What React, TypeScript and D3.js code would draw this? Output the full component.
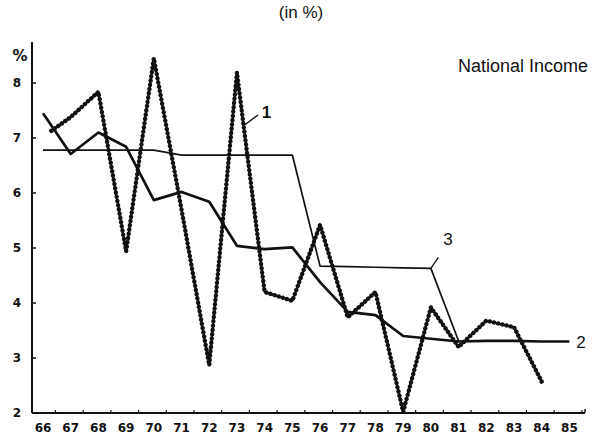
import React from "react";
import * as d3 from "d3";

const W = 599;
const H = 437;

// Years on the x axis
const yearTicks = [66, 67, 68, 69, 70, 71, 72, 73, 74, 75, 76, 77, 78, 79, 80, 81, 82, 83, 84, 85];
const yearLabels = ["66", "67", "68", "69", "70", "71", "72", "73", "74", "75", "76", "77", "78", "79", "80", "81", "82", "83", "84", "85"];
const yTicks = [2, 3, 4, 5, 6, 7, 8];

// Series 1: annual growth (beaded line)
const years1 = [66.3, 67, 68, 69, 70, 71, 72, 73, 74, 75, 76, 77, 78, 79, 80, 81, 82, 83, 84];
const values1 = [7.13, 7.38, 7.84, 4.94, 8.45, 5.7, 2.87, 8.19, 4.2, 4.04, 5.42, 3.74, 4.2, 2.02, 3.92, 3.2, 3.68, 3.56, 2.57];

// Series 2: moving average (thick line)
const years2 = [66, 67, 68, 69, 70, 71, 72, 73, 74, 75, 76, 77, 78, 79, 80, 81, 82, 83, 84, 85];
const values2 = [7.45, 6.71, 7.1, 6.84, 5.87, 6.02, 5.84, 5.04, 4.98, 5.01, 4.38, 3.84, 3.78, 3.4, 3.35, 3.3, 3.31, 3.31, 3.3, 3.3];

// Series 3: plan targets (thin stepped line)
const years3 = [66, 67, 68, 69, 70, 71, 72, 73, 74, 75, 76, 77, 78, 79, 80, 81];
const values3 = [6.78, 6.78, 6.78, 6.78, 6.78, 6.69, 6.69, 6.69, 6.69, 6.69, 4.67, 4.66, 4.65, 4.64, 4.63, 3.31];

// Callout annotations (data units)
const callout1 = { label: "1", from: [73.29, 7.24], to: [73.76, 7.42], text: [73.9, 7.36] };
const callout3 = { label: "3", from: [80, 4.63], to: [80.27, 4.83], text: [80.62, 5.05] };
const callout2 = { label: "2", text: [85.25, 3.18] };

export default function App() {
  const x = d3.scaleLinear().domain([66, 84]).range([43, 541.7]);
  const y = d3.scaleLinear().domain([2, 8]).range([413, 83]);

  const line = d3
    .line<[number, number]>()
    .x((d) => x(d[0]))
    .y((d) => y(d[1]));

  const p1 = line(years1.map((yr, i) => [yr, values1[i]]) as [number, number][]) || "";
  const p2 = line(years2.map((yr, i) => [yr, values2[i]]) as [number, number][]) || "";
  const p3 = line(years3.map((yr, i) => [yr, values3[i]]) as [number, number][]) || "";

  const axisX0 = 32;
  const axisX1 = 585;
  const axisTop = 42;
  const axisBottom = y(2);

  const tickFont = { fontFamily: "'DejaVu Sans', sans-serif", fontWeight: 700, fontSize: 12 } as const;
  const labelFont = { fontFamily: "'Liberation Sans', Arial, sans-serif" } as const;

  return (
    <svg
      width={W}
      height={H}
      viewBox={`0 0 ${W} ${H}`}
      style={{ position: "absolute", left: 0, top: 0, background: "#fff" }}
    >
      <rect x={0} y={0} width={W} height={H} fill="#fff" />
      {/* title */}
      <text x={301} y={18} textAnchor="middle" fontSize={17} {...labelFont} fill="#111">
        (in %)
      </text>
      <text x={458} y={72} fontSize={18} {...labelFont} fill="#111">
        National Income
      </text>

      {/* axes */}
      <line x1={axisX0} y1={axisTop} x2={axisX0} y2={axisBottom} stroke="#111" strokeWidth={2} />
      <line x1={axisX0} y1={axisBottom} x2={axisX1} y2={axisBottom} stroke="#111" strokeWidth={2} />
      <line x1={axisX1} y1={axisBottom} x2={axisX1} y2={axisBottom - 4} stroke="#111" strokeWidth={1.5} />

      {yTicks.map((t) => (
        <g key={"y" + t}>
          {t > 2 && (
            <line x1={axisX0} x2={axisX0 + 4} y1={y(t)} y2={y(t)} stroke="#111" strokeWidth={1.5} />
          )}
          <text x={17} y={y(t)} dy="0.36em" textAnchor="middle" {...tickFont} fill="#111">
            {String(t)}
          </text>
        </g>
      ))}
      <text x={20} y={61} textAnchor="middle" {...tickFont} fontSize={15} fill="#111">
        %
      </text>

      {yearTicks.map((t, i) => (
        <g key={"x" + t}>
          <line
            x1={x(t + 0.45)}
            x2={x(t + 0.45)}
            y1={axisBottom}
            y2={axisBottom - 3}
            stroke="#111"
            strokeWidth={1.2}
          />
          <text x={x(t)} y={432} textAnchor="middle" {...tickFont} fill="#111">
            {yearLabels[i]}
          </text>
        </g>
      ))}

      {/* series 3: thin */}
      <path d={p3} fill="none" stroke="#111" strokeWidth={1.7} strokeLinejoin="round" />
      {/* series 2: thick */}
      <path d={p2} fill="none" stroke="#111" strokeWidth={2.7} strokeLinejoin="round" />
      {/* series 1: beaded */}
      <path d={p1} fill="none" stroke="#111" strokeWidth={2} strokeLinejoin="round" />
      <path
        d={p1}
        fill="none"
        stroke="#111"
        strokeWidth={4.4}
        strokeLinecap="round"
        strokeDasharray="0.1 4.2"
        strokeLinejoin="round"
      />

      {/* callouts */}
      <line
        x1={x(callout1.from[0])}
        y1={y(callout1.from[1])}
        x2={x(callout1.to[0])}
        y2={y(callout1.to[1])}
        stroke="#111"
        strokeWidth={1.3}
      />
      <text x={x(callout1.text[0])} y={y(callout1.text[1])} fontSize={17} fontWeight={700} {...labelFont} fill="#111">
        {callout1.label}
      </text>
      <line
        x1={x(callout3.from[0])}
        y1={y(callout3.from[1])}
        x2={x(callout3.to[0])}
        y2={y(callout3.to[1])}
        stroke="#111"
        strokeWidth={1.3}
      />
      <text x={x(callout3.text[0])} y={y(callout3.text[1])} textAnchor="middle" fontSize={17} {...labelFont} fill="#111">
        {callout3.label}
      </text>
      <text x={x(callout2.text[0])} y={y(callout2.text[1])} fontSize={17} {...labelFont} fill="#111">
        {callout2.label}
      </text>
    </svg>
  );
}
